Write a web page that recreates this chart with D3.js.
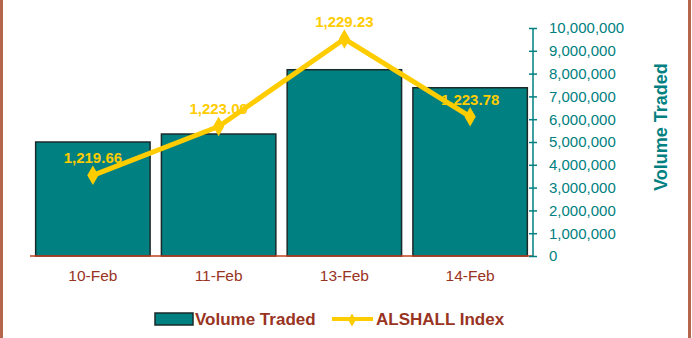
<!DOCTYPE html>
<html>
<head>
<meta charset="utf-8">
<script src="https://cdn.jsdelivr.net/npm/d3@7"></script>
<style>
  body { margin: 0; background: #fff; }
  svg { display: block; font-family: Arial, "Liberation Sans", sans-serif; }
</style>
</head>
<body>
<div id="chartDiv"></div>
<script>
// chart data
const categories = ["10-Feb", "11-Feb", "13-Feb", "14-Feb"];
const volumeTraded = [5000000, 5350000, 8170000, 7380000];
const indexValues = [1219.66, 1223.09, 1229.23, 1223.78];
const volumeTicks = [0, 1000000, 2000000, 3000000, 4000000, 5000000, 6000000, 7000000, 8000000, 9000000, 10000000];
const indexDomain = [1214, 1230];

const width = 692, height = 338;
const margin = {top: 28, right: 159, bottom: 82, left: 30};

const teal = "#008080", yellow = "#ffcc00", brown = "#993322", frame = "#b5654a";

let svg = d3.select("#chartDiv").append("svg")
    .attr("width", width)
    .attr("height", height);

// side frame lines
svg.append("rect").attr("x", 0).attr("y", 0).attr("width", 3).attr("height", height).style("fill", frame);
svg.append("rect").attr("x", 688).attr("y", 0).attr("width", 3).attr("height", height).style("fill", frame);

let x = d3.scaleBand()
    .domain(categories)
    .range([margin.left, width - margin.right])
    .paddingInner(0.09)
    .paddingOuter(0.045);

let y = d3.scaleLinear()
    .domain([0, 10000000])
    .range([height - margin.bottom, margin.top]);

let yIdx = d3.scaleLinear()
    .domain(indexDomain)
    .range([height - margin.bottom, margin.top]);

// bars
svg.selectAll("rect.bar")
    .data(volumeTraded)
    .enter()
    .append("rect")
    .attr("class", "bar")
    .attr("x", (d, i) => x(categories[i]))
    .attr("y", d => y(d))
    .attr("width", x.bandwidth())
    .attr("height", d => y(0) - y(d))
    .style("fill", teal)
    .style("stroke", "#1a2a2a")
    .style("stroke-width", 1.5);

// baseline
svg.append("line")
    .attr("x1", margin.left).attr("x2", width - margin.right)
    .attr("y1", y(0)).attr("y2", y(0))
    .style("stroke", "#c0401f")
    .style("stroke-width", 1.5);

// right axis
let yAxis = d3.axisRight(y)
    .tickValues(volumeTicks)
    .tickSize(4)
    .tickPadding(12)
    .tickFormat(d3.format(","));

let ax = svg.append("g")
    .attr("transform", `translate(${width - margin.right}, 0)`)
    .call(yAxis);
ax.select(".domain").attr("d", `M0,${y(10000000)}V${y(0)}`).style("stroke", teal).style("stroke-width", 1.5);
ax.selectAll(".tick line").attr("x1", -4).style("stroke", teal).style("stroke-width", 1.5);
ax.selectAll(".tick text")
    .style("fill", teal)
    .style("font-size", "15px");

// axis title
svg.append("text")
    .attr("transform", `translate(667, 127) rotate(-90)`)
    .style("text-anchor", "middle")
    .style("fill", teal)
    .style("font-size", "18px")
    .style("font-weight", "bold")
    .text("Volume Traded");

// category labels
svg.selectAll("text.cat")
    .data(categories)
    .enter()
    .append("text")
    .attr("class", "cat")
    .attr("x", d => x(d) + x.bandwidth() / 2)
    .attr("y", y(0) + 25)
    .style("text-anchor", "middle")
    .style("fill", brown)
    .style("font-size", "15.5px")
    .text(d => d);

// index line
let line = d3.line()
    .x((d, i) => x(categories[i]) + x.bandwidth() / 2)
    .y(d => yIdx(d));

svg.append("path")
    .datum(indexValues)
    .attr("d", line)
    .style("fill", "none")
    .style("stroke", yellow)
    .style("stroke-width", 5)
    .style("stroke-linejoin", "round");

let diamond = d3.symbol().type(d3.symbolDiamond).size(110);

svg.selectAll("path.marker")
    .data(indexValues)
    .enter()
    .append("path")
    .attr("class", "marker")
    .attr("d", diamond)
    .attr("transform", (d, i) => `translate(${x(categories[i]) + x.bandwidth() / 2}, ${yIdx(d)})`)
    .style("fill", yellow);

svg.selectAll("text.valueLabel")
    .data(indexValues)
    .enter()
    .append("text")
    .attr("class", "valueLabel")
    .attr("x", (d, i) => x(categories[i]) + x.bandwidth() / 2)
    .attr("y", d => yIdx(d) - 12)
    .style("text-anchor", "middle")
    .style("fill", yellow)
    .style("font-size", "15px")
    .style("font-weight", "bold")
    .text(d => d3.format(",.2f")(d));

// legend
let legend = svg.append("g").attr("transform", "translate(0, 319)");
legend.append("rect")
    .attr("x", 155).attr("y", -6)
    .attr("width", 38).attr("height", 12)
    .style("fill", teal)
    .style("stroke", "#1a2a2a")
    .style("stroke-width", 1.5);
legend.append("text")
    .attr("x", 195).attr("y", 6)
    .style("fill", brown)
    .style("font-size", "17px")
    .style("font-weight", "bold")
    .text("Volume Traded");
legend.append("line")
    .attr("x1", 332).attr("x2", 373)
    .attr("y1", 0).attr("y2", 0)
    .style("stroke", yellow)
    .style("stroke-width", 4);
legend.append("path")
    .attr("d", d3.symbol().type(d3.symbolDiamond).size(50))
    .attr("transform", "translate(352, 1)")
    .style("fill", yellow);
legend.append("text")
    .attr("x", 376).attr("y", 6)
    .style("fill", brown)
    .style("font-size", "17px")
    .style("font-weight", "bold")
    .text("ALSHALL Index");
</script>
</body>
</html>
